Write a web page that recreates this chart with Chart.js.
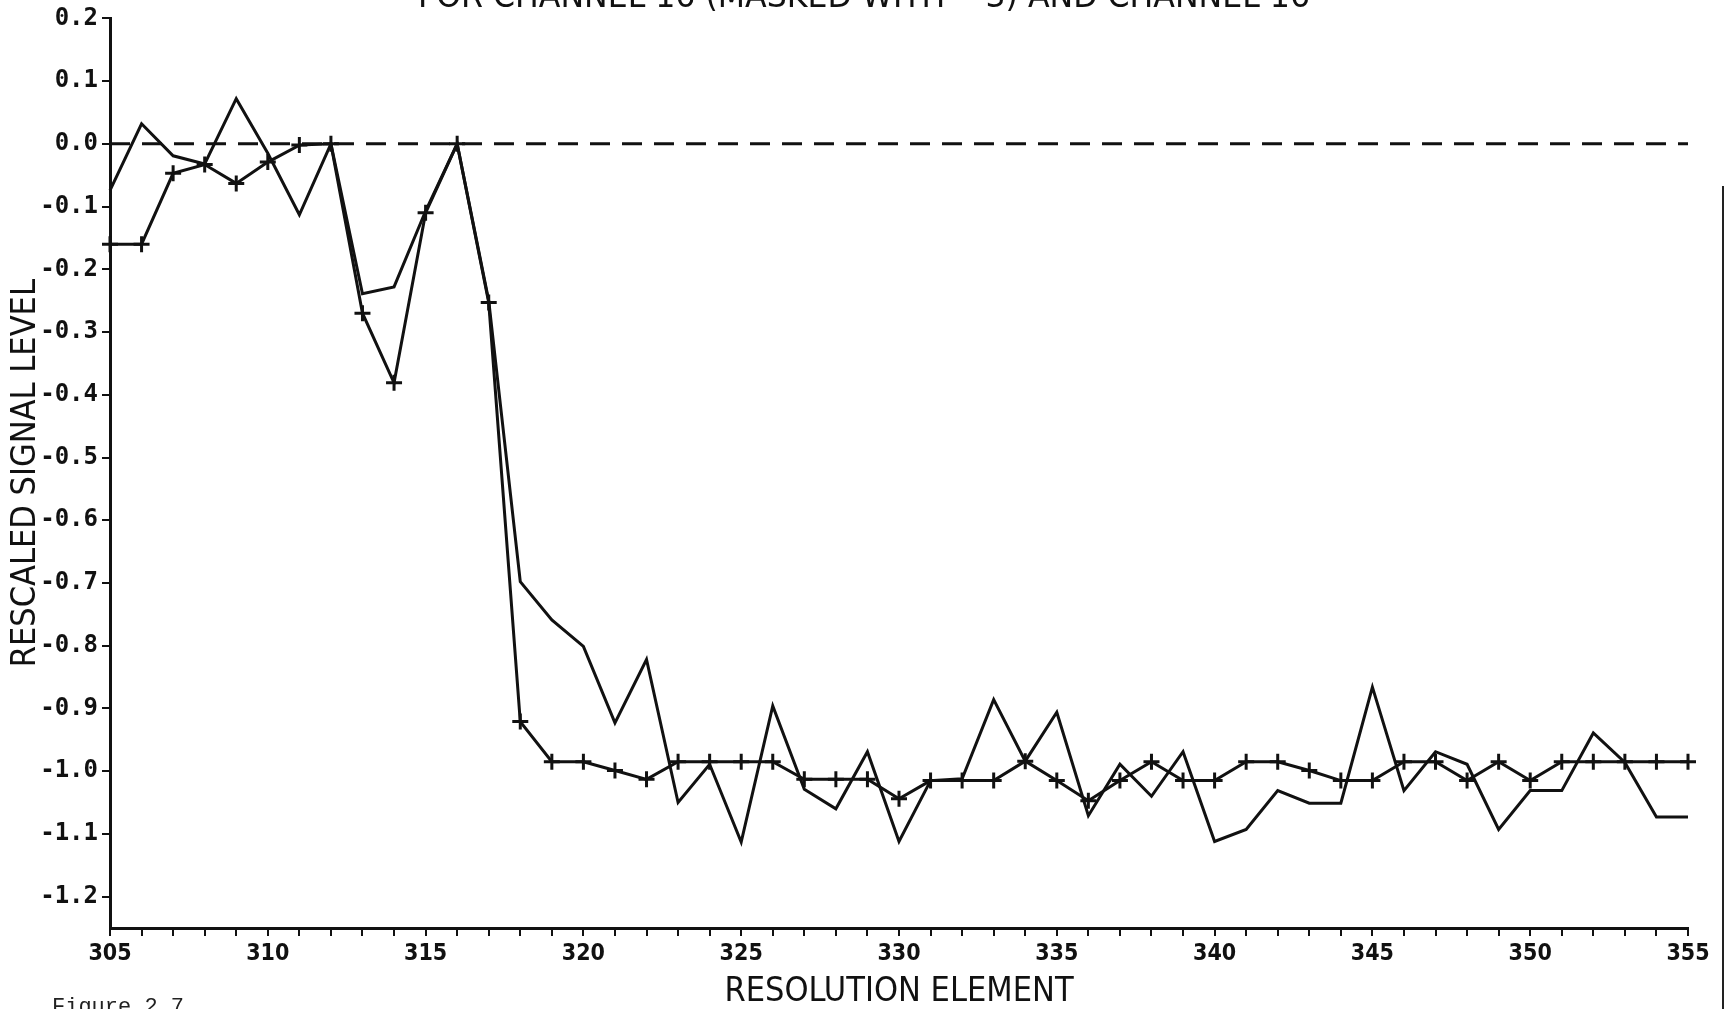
<!DOCTYPE html><html lang="en"><head><meta charset="utf-8"/>
<title>Rescaled signal level vs resolution element</title>
<script src="https://cdn.jsdelivr.net/npm/chart.js@4.4.1/dist/chart.umd.min.js"></script>
<style>
  html,body{margin:0;padding:0;background:#fff;overflow:hidden}
  #wrap{position:relative;width:1726px;height:1009px}
  #edge{position:absolute;left:1722px;top:186px;width:2px;height:823px;background:#222}
  .cap{position:absolute;left:52px;top:997px;font:22px/22px 'Liberation Mono','DejaVu Sans Mono',monospace;color:#222;white-space:pre}
</style></head><body>
<div id="wrap">
  <canvas id="c" width="1726" height="1009"></canvas>
  <div id="edge"></div>
  <div class="cap">Figure 2.7</div>
</div>
<script>
// resolution elements along the x axis
const element = [305,306,307,308,309,310,311,312,313,314,315,316,317,318,319,320,321,322,323,324,325,
  326,327,328,329,330,331,332,333,334,335,336,337,338,339,340,341,342,343,344,345,346,347,348,349,350,
  351,352,353,354,355];
// curve drawn with + markers
const marked = [-0.16,-0.16,-0.047,-0.033,-0.063,-0.029,-0.002,0.0,-0.27,-0.381,-0.11,0.0,-0.253,-0.921,
  -0.985,-0.985,-0.999,-1.013,-0.985,-0.985,-0.985,-0.985,-1.013,-1.013,-1.013,-1.044,-1.015,-1.015,-1.015,
  -0.984,-1.015,-1.047,-1.015,-0.985,-1.015,-1.015,-0.985,-0.985,-0.999,-1.015,-1.015,-0.985,-0.985,-1.015,
  -0.985,-1.015,-0.985,-0.985,-0.985,-0.985,-0.985];
// plain curve (no markers)
const plain = [-0.074,0.032,-0.019,-0.032,0.072,-0.015,-0.113,0.0,-0.239,-0.228,-0.107,0.0,-0.25,-0.698,
  -0.759,-0.801,-0.923,-0.822,-1.05,-0.989,-1.113,-0.896,-1.029,-1.06,-0.969,-1.112,-1.015,-1.012,-0.886,
  -0.984,-0.906,-1.071,-0.989,-1.04,-0.969,-1.112,-1.093,-1.031,-1.051,-1.051,-0.866,-1.031,-0.969,-0.989,
  -1.093,-1.031,-1.031,-0.939,-0.986,-1.073,-1.073];
// dashed reference level
const refX = [305,355];
const refY = [0,0];
const yTicks = [0.2,0.1,0.0,-0.1,-0.2,-0.3,-0.4,-0.5,-0.6,-0.7,-0.8,-0.9,-1.0,-1.1,-1.2];
const titleText = 'FOR CHANNEL 16 (MASKED WITH    3) AND CHANNEL 16';

const INK = '#111';
const NARROW = '"Liberation Sans Narrow","DejaVu Sans Condensed","Arial Narrow",sans-serif';
const MONO = '"DejaVu Sans Mono","Liberation Mono",monospace';

// title sits half off the top edge, as on the scanned page
const cutTitle = {
  id: 'cutTitle',
  afterDraw(chart) {
    const ctx = chart.ctx;
    ctx.save();
    ctx.font = '34px ' + NARROW;
    const w = ctx.measureText(titleText).width;
    ctx.translate(418, 7);
    ctx.scale(892 / w, 1);
    ctx.fillStyle = INK;
    ctx.textBaseline = 'alphabetic';
    ctx.fillText(titleText, 0, 0);
    ctx.restore();
  }
};

new Chart(document.getElementById('c'), {
  type: 'line',
  data: {
    datasets: [
      {data: refX.map((x, i) => ({x, y: refY[i]})), borderColor: INK, borderWidth: 3,
        borderDash: [20, 12], pointRadius: 0, clip: false},
      {data: element.map((x, i) => ({x, y: marked[i]})), borderColor: INK, borderWidth: 3,
        pointStyle: 'cross', pointRadius: 8, pointBorderWidth: 3, pointBorderColor: INK, clip: false},
      {data: element.map((x, i) => ({x, y: plain[i]})), borderColor: INK, borderWidth: 3,
        pointRadius: 0, clip: false}
    ]
  },
  options: {
    responsive: false, animation: false,
    layout: {padding: {top: 15, right: 38, left: 0, bottom: 0}},
    plugins: {legend: {display: false}, tooltip: {enabled: false}},
    scales: {
      x: {
        type: 'linear', min: 305, max: 355,
        afterBuildTicks: s => { s.ticks = element.map(v => ({value: v})); },
        afterFit: s => { s.height = 81; },
        ticks: {autoSkip: false, maxRotation: 0, padding: 4, color: INK,
          font: {family: NARROW, size: 23, weight: 'bold'},
          callback: v => v % 5 === 0 ? String(v) : ''},
        grid: {drawOnChartArea: false, drawTicks: true, tickLength: 8, color: INK, lineWidth: 2},
        border: {display: true, color: INK, width: 3},
        title: {display: true, text: 'RESOLUTION ELEMENT', color: INK,
          font: {family: NARROW, size: 34, lineHeight: 1}, padding: {top: 0, bottom: 0}}
      },
      y: {
        min: -1.25, max: 0.2,
        afterBuildTicks: s => { s.ticks = yTicks.map(v => ({value: v})); },
        afterFit: s => { s.width = 110; },
        ticks: {padding: 4, color: INK, font: {family: MONO, size: 24, weight: 'bold'},
          callback: v => v.toFixed(1)},
        grid: {drawOnChartArea: false, drawTicks: true, tickLength: 8, color: INK, lineWidth: 2},
        border: {display: true, color: INK, width: 3},
        title: {display: true, text: 'RESCALED SIGNAL LEVEL', color: INK,
          font: {family: NARROW, size: 34, lineHeight: 1}, padding: {top: 9, bottom: 0}}
      }
    }
  },
  plugins: [cutTitle]
});
</script></body></html>
